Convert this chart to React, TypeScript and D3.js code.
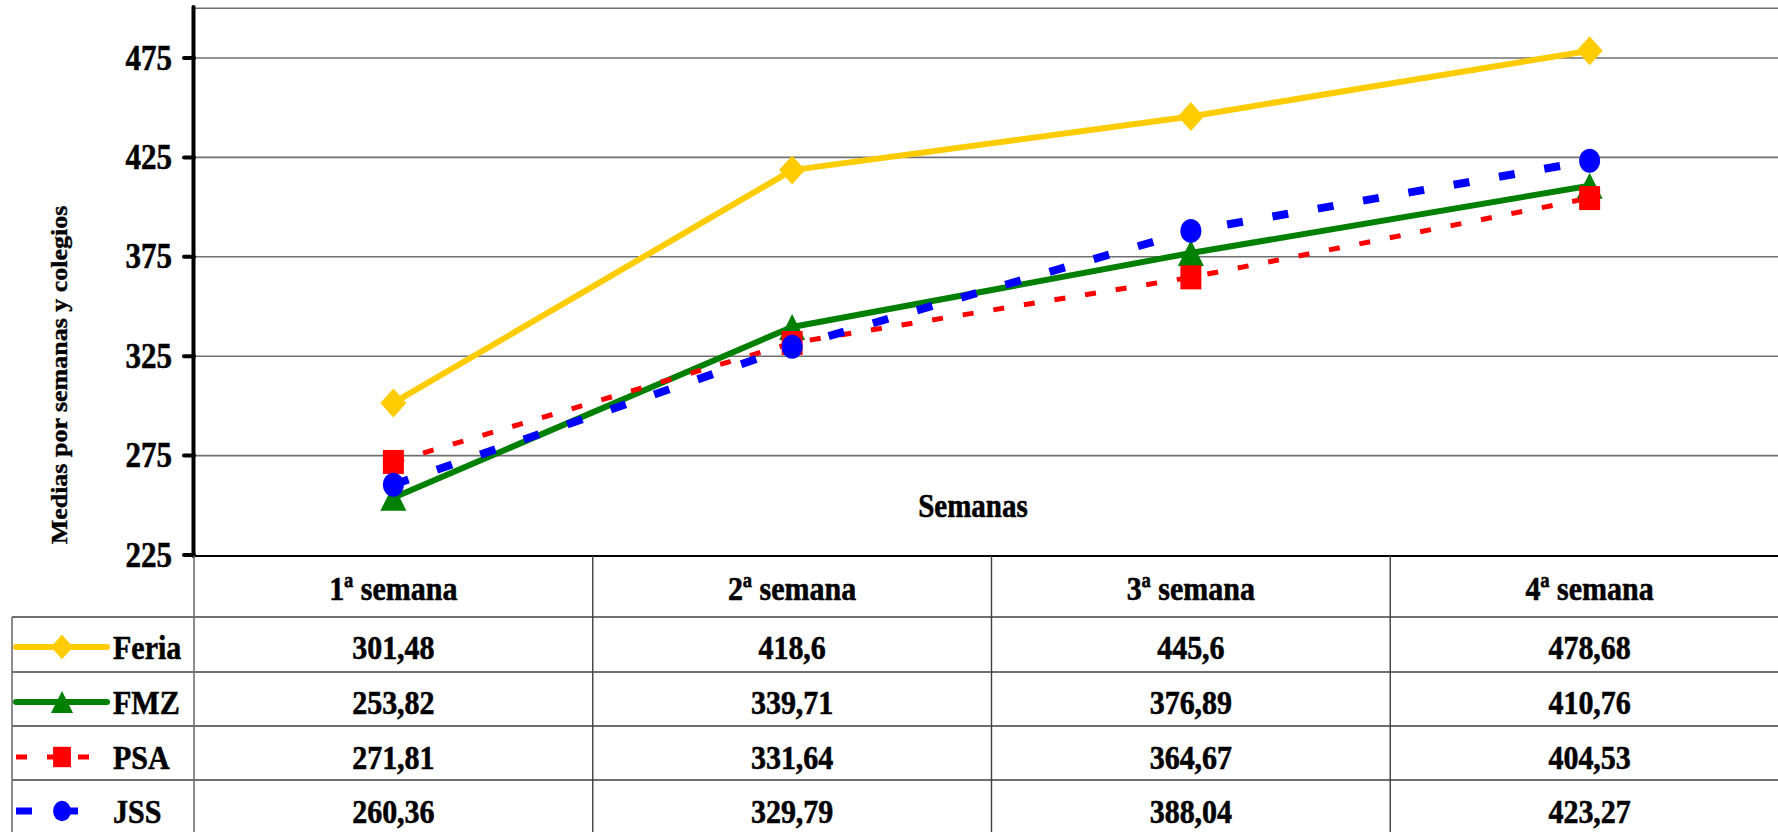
import React from "react";
import * as d3 from "d3";

const weeks = ["1ª semana", "2ª semana", "3ª semana", "4ª semana"];
const seriesNames = ["Feria", "FMZ", "PSA", "JSS"];
const feria = [301.48, 418.6, 445.6, 478.68];
const fmz = [253.82, 339.71, 376.89, 410.76];
const psa = [271.81, 331.64, 364.67, 404.53];
const jss = [260.36, 329.79, 388.04, 423.27];
const yTicks = [225, 275, 325, 375, 425, 475];
const gridValues = [275, 325, 375, 425, 475, 500];

const W = 1778;
const H = 832;
const SY = 1.13;
const FONT = "'Liberation Serif', 'Times New Roman', serif";

const seriesValues = [feria, fmz, psa, jss];
const colors = ["#FFCC00", "#008000", "#FF0000", "#0000FF"];
const widths = [6, 6, 5, 8];
const dashes = [null, null, "11,20", "16,30"];
const markers = ["diamond", "triangle", "square", "circle"];

const x = d3.scaleBand<string>().domain(weeks).range([194, 1789]).padding(0);
const y = d3.scaleLinear().domain([225, 500]).range([555, 8.3]);

function markerPath(kind: string, s = 1): string {
  const p = d3.path();
  if (kind === "diamond") {
    const w = 13 * s, h = 14.5 * s;
    p.moveTo(0, -h); p.lineTo(w, 0); p.lineTo(0, h); p.lineTo(-w, 0); p.closePath();
  } else if (kind === "triangle") {
    const w = 13 * s;
    p.moveTo(0, -13 * s); p.lineTo(w, 13 * s); p.lineTo(-w, 13 * s); p.closePath();
  } else if (kind === "square") {
    p.rect(-10.5 * s, -12 * s, 21 * s, 24 * s);
  }
  return p.toString();
}

function Marker({ kind, cx, cy, color, s = 1 }: { kind: string; cx: number; cy: number; color: string; s?: number }) {
  if (kind === "circle") {
    return <ellipse cx={cx} cy={cy} rx={10.5 * s} ry={12 * s} fill={color} />;
  }
  return <path d={markerPath(kind, s)} transform={`translate(${cx},${cy})`} fill={color} />;
}

function T({ x: tx, y: ty, children, size = 30, anchor = "middle", bold = true }: any) {
  return (
    <g transform={`translate(${tx},${ty}) scale(1,${SY})`}>
      <text
        x={0}
        y={0}
        textAnchor={anchor}
        dominantBaseline="central"
        fontFamily={FONT}
        fontSize={size}
        fontWeight={bold ? "bold" : "normal"}
        fill="#000"
        stroke="#000"
        strokeWidth={0.5}
      >
        {children}
      </text>
    </g>
  );
}

const fmt = (v: number) => String(v).replace(".", ",");

export default function App() {
  const cx = (w: string) => (x(w) as number) + x.bandwidth() / 2;
  const line = d3
    .line<number>()
    .x((_, i) => cx(weeks[i]))
    .y((v) => y(v));

  const rowLines = [617, 672, 726, 780];
  const rowCenters = [647, 702, 757, 811];
  const colBounds = weeks.map((w) => x(w) as number).slice(1);

  return (
    <svg
      width={W}
      height={H}
      style={{ position: "absolute", left: 0, top: 0, background: "#fff" }}
    >
      <rect x={0} y={0} width={W} height={H} fill="#fff" />
      {/* gridlines */}
      {gridValues.map((v) => (
        <line key={v} x1={194} x2={W} y1={y(v)} y2={y(v)} stroke="#707070" strokeWidth={1.6} />
      ))}

      {/* y tick labels */}
      {yTicks.map((v) => (
        <g key={v}>
          <line x1={184} x2={194} y1={y(v)} y2={y(v)} stroke="#000" strokeWidth={4} strokeLinecap="round" />
          <T x={172} y={y(v)} anchor="end" size={31}>{v}</T>
        </g>
      ))}

      {/* axis title */}
      <g transform={`translate(59,375) scale(1,${SY}) rotate(-90)`}>
        <text x={0} y={0} textAnchor="middle" dominantBaseline="central" fontFamily={FONT} fontSize={23} fontWeight="bold" stroke="#000" strokeWidth={0.4}>
          Medias por semanas y colegios
        </text>
      </g>
      <T x={973} y={506} size={29}>Semanas</T>

      {/* series */}
      {seriesValues.map((vals, si) => (
        <g key={si}>
          <path
            d={line(vals) || ""}
            fill="none"
            stroke={colors[si]}
            strokeWidth={widths[si]}
            strokeDasharray={dashes[si] || undefined}
            strokeLinejoin="round"
          />
          {vals.map((v, i) => (
            <Marker key={i} kind={markers[si]} cx={cx(weeks[i])} cy={y(v)} color={colors[si]} />
          ))}
        </g>
      ))}

      {/* y axis */}
      <line x1={193.5} x2={193.5} y1={7} y2={556} stroke="#000" strokeWidth={4} strokeLinecap="round" />

      {/* table */}
      <line x1={194} x2={W} y1={556} y2={556} stroke="#000" strokeWidth={2} />
      {rowLines.map((ly, i) => (
        <line key={i} x1={12} x2={W} y1={ly} y2={ly} stroke="#404040" strokeWidth={1.6} />
      ))}
      <line x1={12} x2={12} y1={617} y2={H} stroke="#707070" strokeWidth={1.6} />
      <line x1={194} x2={194} y1={556} y2={H} stroke="#707070" strokeWidth={1.6} />
      {colBounds.map((bx, i) => (
        <line key={i} x1={bx} x2={bx} y1={556} y2={H} stroke="#404040" strokeWidth={1.4} />
      ))}
      {weeks.map((w) => (
        <T key={w} x={cx(w)} y={588} size={30}>{w}</T>
      ))}

      {seriesValues.map((vals, si) => (
        <g key={si}>
          <line
            x1={16}
            x2={107}
            y1={rowCenters[si]}
            y2={rowCenters[si]}
            stroke={colors[si]}
            strokeWidth={widths[si] === 8 ? 7 : widths[si]}
            strokeDasharray={dashes[si] || undefined}
            strokeLinecap={dashes[si] ? "butt" : "round"}
          />
          <Marker kind={markers[si]} cx={62} cy={rowCenters[si]} color={colors[si]} s={0.85} />
          <T x={113} y={rowCenters[si]} anchor="start" size={30}>{seriesNames[si]}</T>
          {vals.map((v, i) => (
            <T key={i} x={cx(weeks[i])} y={rowCenters[si]} size={30}>{fmt(v)}</T>
          ))}
        </g>
      ))}
    </svg>
  );
}
